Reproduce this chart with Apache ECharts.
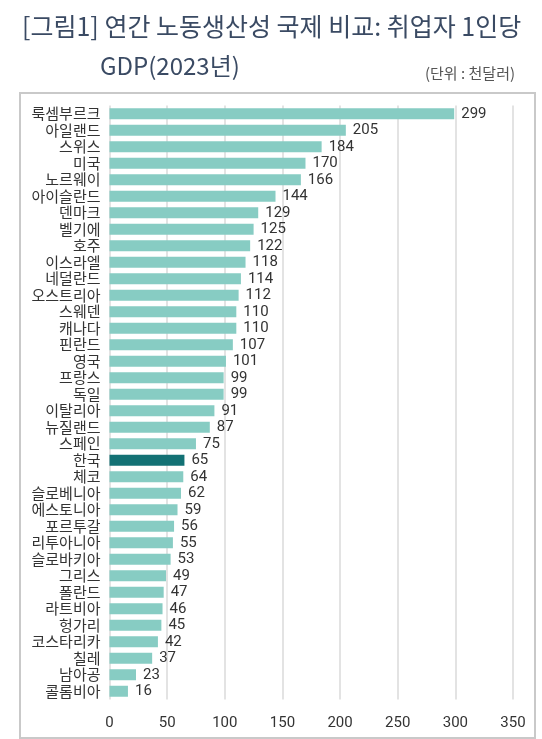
<!DOCTYPE html>
<html>
<head>
    <meta charset="utf-8">
    <title>연간 노동생산성 국제 비교</title>
    <script src="https://cdn.jsdelivr.net/npm/echarts@6/dist/echarts.min.js"></script>
    <style>
        html, body { margin: 0; padding: 0; background: #fff; }
        #main { width: 542px; height: 739px; }
    </style>
</head>
<body>
    <div id="main"></div>

    <script type="text/javascript">
        // 국가 (위에서 아래 순서)
        var countries = ['룩셈부르크', '아일랜드', '스위스', '미국', '노르웨이', '아이슬란드', '덴마크', '벨기에', '호주',
            '이스라엘', '네덜란드', '오스트리아', '스웨덴', '캐나다', '핀란드', '영국', '프랑스', '독일', '이탈리아',
            '뉴질랜드', '스페인', '한국', '체코', '슬로베니아', '에스토니아', '포르투갈', '리투아니아', '슬로바키아',
            '그리스', '폴란드', '라트비아', '헝가리', '코스타리카', '칠레', '남아공', '콜롬비아'];
        // 취업자 1인당 GDP (천달러)
        var gdpPerWorker = [299, 205, 184, 170, 166, 144, 129, 125, 122,
            118, 114, 112, 110, 110, 107, 101, 99, 99, 91,
            87, 75, 65, 64, 62, 59, 56, 55, 53,
            49, 47, 46, 45, 42, 37, 23, 16];
        var xTicks = [0, 50, 100, 150, 200, 250, 300, 350];
        var highlight = '한국';

        var numFont = '"Liberation Sans Narrow", Roboto, sans-serif';
        var krFont = '"Noto Sans CJK KR", sans-serif';

        var chart = echarts.init(document.getElementById('main'));

        var barData = [];
        for (var i = 0; i < countries.length; i++) {
            barData.push({
                value: gdpPerWorker[i],
                itemStyle: { color: countries[i] === highlight ? '#137174' : '#87ccc3' }
            });
        }

        chart.setOption({
            animation: false,
            title: [
                {
                    text: '[그림1] 연간 노동생산성 국제 비교: 취업자 1인당',
                    left: 17, top: 9,
                    textStyle: { fontFamily: krFont, fontSize: 25, fontWeight: 'normal', color: '#3a4a63' }
                },
                {
                    text: 'GDP(2023년)',
                    left: 95, top: 49,
                    textStyle: { fontFamily: krFont, fontSize: 24, fontWeight: 'normal', color: '#3a4a63' }
                },
                {
                    text: '(단위 : 천달러)',
                    right: 22, top: 61,
                    textStyle: { fontFamily: krFont, fontSize: 15, fontWeight: 'normal', color: '#555' }
                }
            ],
            graphic: [{
                type: 'rect',
                shape: { x: 20, y: 93, width: 515, height: 645 },
                style: { fill: 'none', stroke: '#c9c9c9', lineWidth: 2 },
                silent: true
            }],
            grid: { left: 109.5, right: 29, top: 105.5, height: 594 },
            xAxis: {
                type: 'value',
                min: xTicks[0],
                max: xTicks[xTicks.length - 1],
                interval: 50,
                axisLine: { show: false },
                axisTick: { show: false },
                splitLine: { lineStyle: { color: '#dadada', width: 1.5 } },
                axisLabel: { fontFamily: numFont, fontSize: 15, color: '#333', margin: 16 }
            },
            yAxis: {
                type: 'category',
                inverse: true,
                data: countries,
                axisLine: { show: false },
                axisTick: { show: false },
                axisLabel: { interval: 0, fontFamily: krFont, fontSize: 15, color: '#333', margin: 9 }
            },
            series: [{
                type: 'bar',
                barWidth: 11,
                data: barData,
                label: {
                    show: true,
                    position: 'right',
                    distance: 7,
                    fontFamily: numFont,
                    fontSize: 15,
                    color: '#333'
                }
            }]
        });
    </script>
</body>
</html>
